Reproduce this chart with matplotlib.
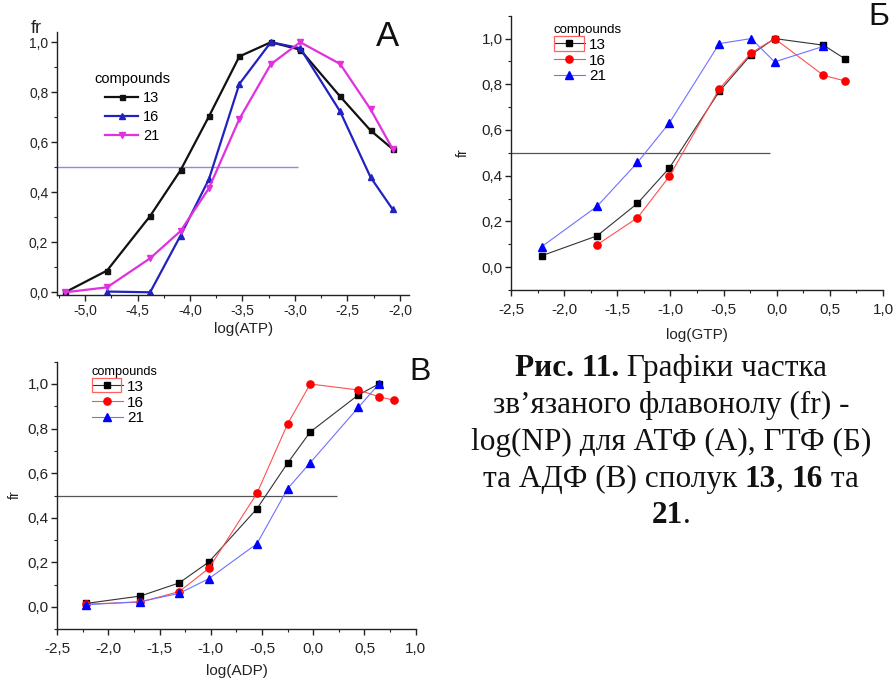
import matplotlib
matplotlib.use('Agg')
import matplotlib.pyplot as plt
from matplotlib.ticker import MultipleLocator, FuncFormatter
from matplotlib.patches import Rectangle

plt.rcParams['font.family'] = ['Liberation Sans', 'DejaVu Sans']
plt.rcParams['axes.unicode_minus'] = False

W, H = 894, 680

# ---------------- data ----------------
# Panel A: log(ATP)
atp_x13 = [-5.19, -4.79, -4.38, -4.09, -3.82, -3.53, -3.23, -2.95, -2.57, -2.28, -2.07]
atp_y13 = [0.0, 0.087, 0.305, 0.488, 0.703, 0.943, 1.0, 0.97, 0.783, 0.647, 0.573]
atp_x16 = [-4.79, -4.38, -4.09, -3.82, -3.53, -3.23, -2.95, -2.57, -2.28, -2.07]
atp_y16 = [0.003, 0.0, 0.227, 0.452, 0.833, 1.0, 0.976, 0.723, 0.46, 0.332]
atp_x21 = [-5.19, -4.79, -4.38, -4.09, -3.82, -3.53, -3.23, -2.95, -2.57, -2.28, -2.07]
atp_y21 = [0.0, 0.02, 0.136, 0.245, 0.416, 0.693, 0.912, 1.0, 0.913, 0.732, 0.573]

# Panel Б: log(GTP)
gtp_x13 = [-2.21, -1.69, -1.31, -1.01, -0.54, -0.24, -0.02, 0.44, 0.64]
gtp_y13 = [0.05, 0.137, 0.279, 0.434, 0.769, 0.93, 1.0, 0.971, 0.912]
gtp_x16 = [-1.69, -1.31, -1.01, -0.54, -0.24, -0.02, 0.44, 0.64]
gtp_y16 = [0.098, 0.216, 0.397, 0.78, 0.937, 1.0, 0.839, 0.815]
gtp_x21 = [-2.21, -1.69, -1.31, -1.01, -0.54, -0.24, -0.02, 0.44]
gtp_y21 = [0.09, 0.266, 0.458, 0.631, 0.978, 1.0, 0.898, 0.966]

# Panel В: log(ADP)
adp_x13 = [-2.22, -1.69, -1.31, -1.02, -0.55, -0.25, -0.03, 0.44, 0.64]
adp_y13 = [0.016, 0.049, 0.108, 0.202, 0.441, 0.646, 0.785, 0.951, 1.0]
adp_x16 = [-2.22, -1.69, -1.31, -1.02, -0.55, -0.25, -0.03, 0.44, 0.64, 0.79]
adp_y16 = [0.013, 0.022, 0.069, 0.173, 0.51, 0.822, 1.0, 0.973, 0.943, 0.927]
adp_x21 = [-2.22, -1.69, -1.31, -1.02, -0.55, -0.25, -0.03, 0.44, 0.64]
adp_y21 = [0.01, 0.024, 0.061, 0.127, 0.284, 0.531, 0.647, 0.895, 1.0]

compounds = ['13', '16', '21']
half_level = 0.5
atp_half_end = -2.97
gtp_half_end = -0.06
adp_half_end = 0.235

caption_lines = [
    [("Рис. 11.", "bold"), (" Графіки частка", "normal")],
    [("зв’язаного флавонолу (fr) -", "normal")],
    [("log(NP) для АТФ (А), ГТФ (Б)", "normal")],
    [("та АДФ (В) сполук ", "normal"), ("13", "bold"), (", ", "normal"),
     ("16", "bold"), (" та", "normal")],
    [("21", "bold"), (".", "normal")],
]

# ---------------- helpers ----------------
def fx(px):
    return px / W

def fy(py):
    return 1 - py / H

def ax_rect(l, t, r, b):
    return [l / W, 1 - b / H, (r - l) / W, (b - t) / H]

comma = FuncFormatter(lambda v, p: f"{v:.1f}".replace('.', ','))

def style_axes(ax, xlim, ylim, fs, xpad=2):
    ax.set_xlim(*xlim)
    ax.set_ylim(*ylim)
    for s in ('top', 'right'):
        ax.spines[s].set_visible(False)
    for s in ('left', 'bottom'):
        ax.spines[s].set_linewidth(1.0)
        ax.spines[s].set_color('#222222')
    ax.xaxis.set_major_locator(MultipleLocator(0.5))
    ax.xaxis.set_minor_locator(MultipleLocator(0.25))
    ax.yaxis.set_major_locator(MultipleLocator(0.2))
    ax.yaxis.set_minor_locator(MultipleLocator(0.1))
    ax.xaxis.set_major_formatter(comma)
    ax.yaxis.set_major_formatter(comma)
    ax.tick_params(which='major', direction='out', length=4, width=1.0,
                   labelsize=fs, colors='#222222', pad=2)
    ax.tick_params(axis='x', which='major', pad=xpad)
    ax.tick_params(which='minor', direction='out', length=2.5, width=0.8,
                   colors='#222222')
    ax.patch.set_alpha(0)

fig = plt.figure(figsize=(W / 100, H / 100), dpi=100)

# ---------------- Panel A ----------------
axA = fig.add_axes(ax_rect(56.7, 31.7, 409.3, 294.7))
style_axes(axA, (-5.27, -1.911), (-0.0096, 1.042), 10, xpad=2.5)
axA.hlines(half_level, -5.27, atp_half_end, color='#8c8cdc', lw=1.0, zorder=1)
lA13, = axA.plot(atp_x13, atp_y13, '-s', color='#111111', lw=1.6, ms=3.6, label=compounds[0])
lA16, = axA.plot(atp_x16, atp_y16, '-^', color='#2222c0', lw=1.6, ms=4.2, label=compounds[1])
lA21, = axA.plot(atp_x21, atp_y21, '-v', color='#e030e0', lw=1.6, ms=4.2, label=compounds[2])
legA = axA.legend(handles=[lA13, lA16, lA21], title='compounds', loc='upper left',
                  bbox_to_anchor=(fx(94), fy(72)), bbox_transform=fig.transFigure,
                  frameon=False, fontsize=10.5, title_fontsize=10.5,
                  handlelength=2.3, handletextpad=0.3, labelspacing=0.34,
                  borderpad=0, borderaxespad=0, alignment='center')
fig.text(fx(36), fy(33), 'fr', fontsize=13, ha='center', va='baseline', color='#222222')
fig.text(fx(387), fy(36), 'A', fontsize=25, ha='center', va='center', color='#111111')
fig.text(fx(244), fy(329), 'log(ATP)', fontsize=11, ha='center', va='center', color='#222222')

# ---------------- Panel Б ----------------
axB = fig.add_axes(ax_rect(511, 15.7, 883, 290))
style_axes(axB, (-2.5, 1.0), (-0.1, 1.1), 11, xpad=5)
axB.hlines(half_level, -2.5, gtp_half_end, color='#555555', lw=0.9, zorder=1)
lB13, = axB.plot(gtp_x13, gtp_y13, '-s', color='#333333', mfc='black', mec='black',
                 lw=0.8, ms=5, label=compounds[0])
lB16, = axB.plot(gtp_x16, gtp_y16, '-o', color='#ff5050', mfc='red', mec='red',
                 lw=0.8, ms=5.2, label=compounds[1])
lB21, = axB.plot(gtp_x21, gtp_y21, '-^', color='#7070ff', mfc='blue', mec='blue',
                 lw=0.8, ms=5.8, label=compounds[2])
legB = axB.legend(handles=[lB13, lB16, lB21], title='compounds', loc='upper left',
                  bbox_to_anchor=(fx(554), fy(24)), bbox_transform=fig.transFigure,
                  frameon=False, fontsize=11, title_fontsize=9.5,
                  handlelength=2.0, handletextpad=0.3, labelspacing=0.12,
                  borderpad=0, borderaxespad=0, alignment='left')
fig.text(fx(463), fy(153), 'fr', fontsize=10, rotation=90, ha='center', va='center', color='#222222')
fig.text(fx(879), fy(17), 'Б', fontsize=23, ha='center', va='center', color='#111111')
fig.text(fx(697), fy(335), 'log(GTP)', fontsize=11, ha='center', va='center', color='#222222')
fig.patches.append(Rectangle((fx(554), fy(51)), (584 - 554) / W, 15 / H,
                             transform=fig.transFigure, fill=False,
                             edgecolor='#ff6060', lw=0.9))

# ---------------- Panel В ----------------
axC = fig.add_axes(ax_rect(57.3, 361.7, 415.7, 629.3))
style_axes(axC, (-2.5, 1.0), (-0.1, 1.1), 11, xpad=5)
axC.hlines(half_level, -2.5, adp_half_end, color='#555555', lw=0.9, zorder=1)
lC13, = axC.plot(adp_x13, adp_y13, '-s', color='#333333', mfc='black', mec='black',
                 lw=0.8, ms=5, label=compounds[0])
lC16, = axC.plot(adp_x16, adp_y16, '-o', color='#ff5050', mfc='red', mec='red',
                 lw=0.8, ms=5.2, label=compounds[1])
lC21, = axC.plot(adp_x21, adp_y21, '-^', color='#7070ff', mfc='blue', mec='blue',
                 lw=0.8, ms=5.8, label=compounds[2])
legC = axC.legend(handles=[lC13, lC16, lC21], title='compounds', loc='upper left',
                  bbox_to_anchor=(fx(92), fy(366)), bbox_transform=fig.transFigure,
                  frameon=False, fontsize=11, title_fontsize=9.2,
                  handlelength=2.0, handletextpad=0.3, labelspacing=0.12,
                  borderpad=0, borderaxespad=0, alignment='left')
fig.text(fx(15), fy(495), 'fr', fontsize=10, rotation=90, ha='center', va='center', color='#222222')
fig.text(fx(420), fy(372), 'В', fontsize=23, ha='center', va='center', color='#111111')
fig.text(fx(237), fy(671), 'log(ADP)', fontsize=11, ha='center', va='center', color='#222222')
fig.patches.append(Rectangle((fx(92), fy(392)), (121 - 92) / W, 14 / H,
                             transform=fig.transFigure, fill=False,
                             edgecolor='#ff6060', lw=0.9))

# ---------------- caption ----------------
renderer = fig.canvas.get_renderer()
cap_size = 22.5
cap_family = ['Liberation Serif', 'DejaVu Serif']

def seg_width(s, w):
    t1 = fig.text(0, 0, s + '|', fontsize=cap_size, fontweight=w, family=cap_family)
    t2 = fig.text(0, 0, '|', fontsize=cap_size, fontweight=w, family=cap_family)
    wd = t1.get_window_extent(renderer).width - t2.get_window_extent(renderer).width
    t1.remove()
    t2.remove()
    return wd

cap_cx = 671
cap_base = [376, 413, 450, 487, 523]
for segs, base in zip(caption_lines, cap_base):
    widths = [seg_width(s, w) for s, w in segs]
    x = cap_cx - sum(widths) / 2
    for (s, w), wd in zip(segs, widths):
        fig.text(fx(x), fy(base), s, fontsize=cap_size, fontweight=w, family=cap_family,
                 ha='left', va='baseline', color='#111111')
        x += wd

fig.savefig('out.png', dpi=100)
